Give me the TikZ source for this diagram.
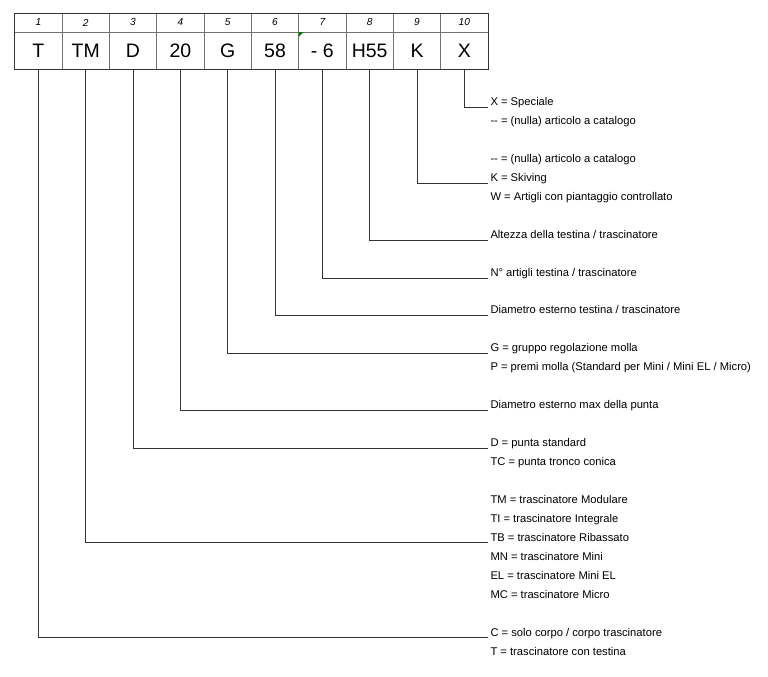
\documentclass[tikz,border=0pt]{standalone}
\usepackage{fontspec}
\setmainfont{Liberation Sans}

\tikzset{every picture/.style={line width=0.75pt}}
\tikzset{
  hcell/.style={draw=black!55, minimum width=35.5pt, minimum height=14.25pt, inner sep=0pt, outer sep=0pt, font=\fontsize{7.6}{9}\selectfont\itshape},
  bcell/.style={draw=black!55, minimum width=35.5pt, minimum height=27.75pt, inner sep=0pt, outer sep=0pt, font=\fontsize{14.6}{17}\selectfont},
  lbl/.style={anchor=base west, inner sep=0pt, font=\fontsize{8.4}{10}\selectfont},
  lead/.style={draw=black!80}
}

\begin{document}
\begin{tikzpicture}[x=0.75pt,y=0.75pt,yscale=-1,xscale=1]
\useasboundingbox (0,0) rectangle (768,676);

%Table: header and code cells
\foreach \t [count=\i] in {T,TM,D,20,G,58,- 6,H55,K,X}{
  \node [hcell] (h\i) at ({14.7+47.33*(\i-0.5)},22.5) {\i};
  \node [bcell] (c\i) at ({14.7+47.33*(\i-0.5)},50.5) {\t};
}
\draw [black!80] (h1.north west) rectangle (c10.south east);
%comment marker
\fill [green!50!black] (c7.north west) -- ++(5,0) -- ++(-5,5) -- cycle;

%End points of the leader lines
\coordinate (e10) at (488,107);
\coordinate (e9) at (488,183);
\coordinate (e8) at (488,240);
\coordinate (e7) at (488,278);
\coordinate (e6) at (488,315.5);
\coordinate (e5) at (488,353);
\coordinate (e4) at (488,410);
\coordinate (e3) at (488,448.5);
\coordinate (e2) at (488,542.5);
\coordinate (e1) at (488,637.5);

%Leader lines
\foreach \i in {1,...,10}{
  \draw [lead] (c\i.south) |- (e\i);
}

% Text Node
\node [lbl] (x1) at (490,105) {X = Speciale};
\node [lbl] (x2) at (490,124) {-{}- = (nulla) articolo a catalogo};

\node [lbl] (k1) at (490,162) {-{}- = (nulla) articolo a catalogo};
\node [lbl] (k2) at (490,181) {K = Skiving};
\node [lbl] (k3) at (490,200) {W = Artigli con piantaggio controllato};

\node [lbl] (hh) at (490,238) {Altezza della testina / trascinatore};

\node [lbl] (nn) at (490,276) {N° artigli testina / trascinatore};

\node [lbl] (dd) at (490,313.5) {Diametro esterno testina / trascinatore};

\node [lbl] (g1) at (490,351) {G = gruppo regolazione molla};
\node [lbl] (g2) at (490,370) {P = premi molla (Standard per Mini / Mini EL / Micro)};

\node [lbl] (dm) at (490,408) {Diametro esterno max della punta};

\node [lbl] (p1) at (490,446.5) {D = punta standard};
\node [lbl] (p2) at (490,465.5) {TC = punta tronco conica};

\node [lbl] (t1) at (490,503) {TM = trascinatore Modulare};
\node [lbl] (t2) at (490,522) {TI = trascinatore Integrale};
\node [lbl] (t3) at (490,541) {TB = trascinatore Ribassato};
\node [lbl] (t4) at (490,560) {MN = trascinatore Mini};
\node [lbl] (t5) at (490,579) {EL = trascinatore Mini EL};
\node [lbl] (t6) at (490,598) {MC = trascinatore Micro};

\node [lbl] (s1) at (490,636) {C = solo corpo / corpo trascinatore};
\node [lbl] (s2) at (490,655) {T = trascinatore con testina};

\end{tikzpicture}
\end{document}
